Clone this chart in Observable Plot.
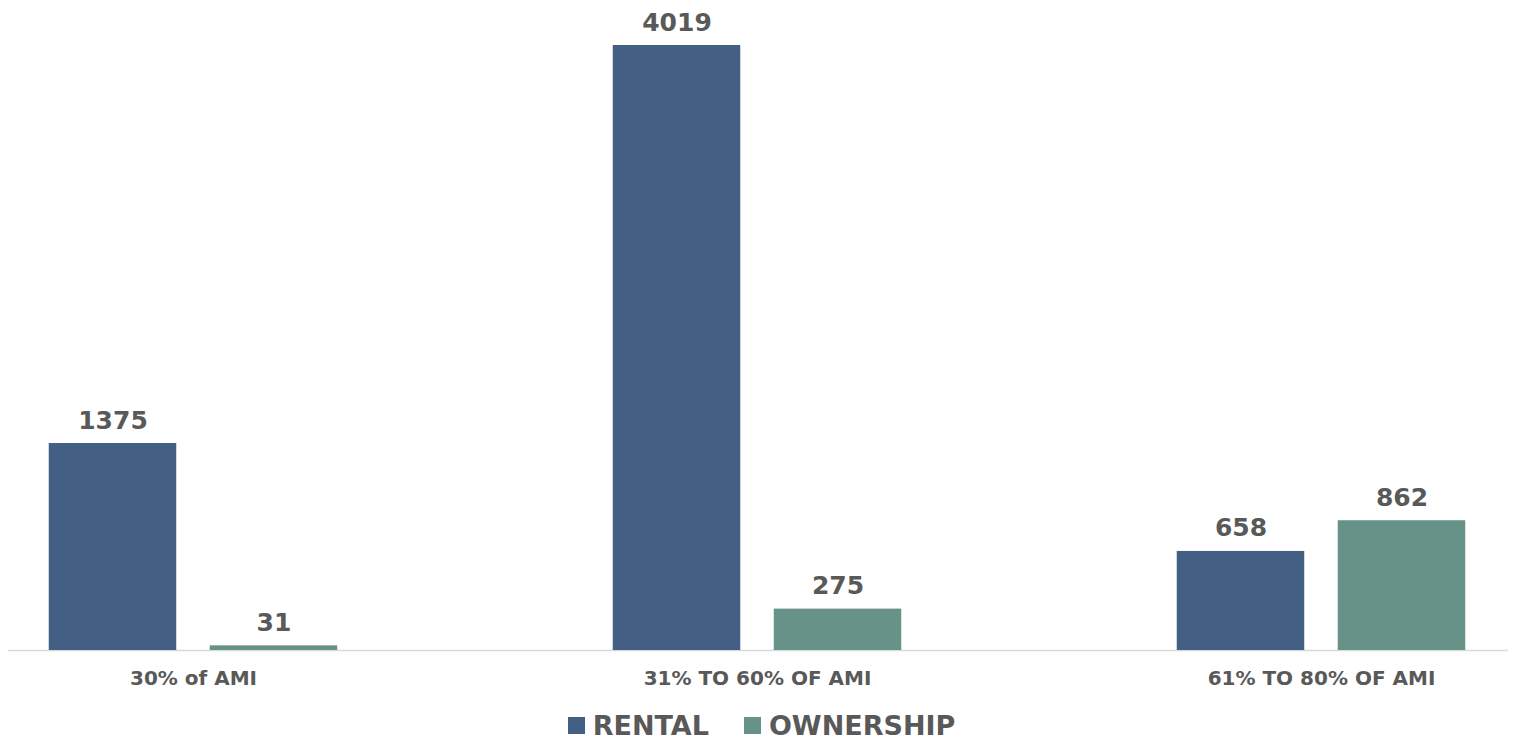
<!DOCTYPE html>
<html>
<head>
<meta charset="utf-8">
<script src="https://cdn.jsdelivr.net/npm/d3@7"></script>
<script src="https://cdn.jsdelivr.net/npm/@observablehq/plot@0.6"></script>
<style>
  body { margin: 0; background: #fff; }
  #chart { width: 1517px; }
  .lg-swatches { justify-content: center !important; margin-top: 9px !important; margin-left: 6px !important; }
  .lg-swatch > svg { margin-right: 8px !important; }
  .lg-swatch { margin-right: 35px !important; }
  .lg-swatch:last-child { margin-right: 0 !important; }
</style>
</head>
<body>
<div id="chart"></div>
<script>
const categories = ["30% of AMI", "31% TO 60% OF AMI", "61% TO 80% OF AMI"];
const series = ["RENTAL", "OWNERSHIP"];
const rental = [1375, 4019, 658];
const ownership = [31, 275, 862];
const colors = ["#445f84", "#679287"];

const data = categories.flatMap((c, i) => [
  {category: c, series: series[0], value: rental[i]},
  {category: c, series: series[1], value: ownership[i]}
]);
const rentData = data.filter(d => d.series === series[0]);
const ownData = data.filter(d => d.series === series[1]);

const font = "DejaVu Sans";
const textStyle = {fill: "#595959", fontSize: 25, fontWeight: "bold", lineAnchor: "bottom", dy: -15};

const chart = Plot.plot({
  width: 1517,
  height: 700,
  marginTop: 45,
  marginBottom: 50,
  marginLeft: 8,
  marginRight: 9,
  style: {fontFamily: font, fontWeight: "bold", color: "#595959", background: "#fff"},
  x: {type: "band", domain: categories, range: [-89.75, 1603.75], padding: 0},
  y: {domain: [0, 4019], axis: null},
  color: {domain: series, range: colors},
  marks: [
    Plot.ruleY([0], {stroke: "#d9d9d9", strokeWidth: 1.5}),
    Plot.barY(rentData, {x: "category", y: "value", fill: "series", insetLeft: 137.75, insetRight: 298.75}),
    Plot.barY(ownData, {x: "category", y: "value", fill: "series", insetLeft: 298.75, insetRight: 137.75}),
    Plot.text(rentData, {x: "category", y: "value", text: d => String(d.value), dx: -80.5, ...textStyle}),
    Plot.text(ownData, {x: "category", y: "value", text: d => String(d.value), dx: 80.5, ...textStyle}),
    Plot.axisX({tickSize: 0, tickPadding: 20, fontSize: 20, label: null, fill: "#595959"})
  ]
});

const legend = Plot.legend({
  color: {domain: series, range: colors},
  legend: "swatches",
  swatchSize: 17,
  className: "lg",
  style: {fontFamily: font, fontSize: "27px", fontWeight: "bold", color: "#595959"}
});

const root = document.getElementById("chart");
root.appendChild(chart);
root.appendChild(legend);
</script>
</body>
</html>
